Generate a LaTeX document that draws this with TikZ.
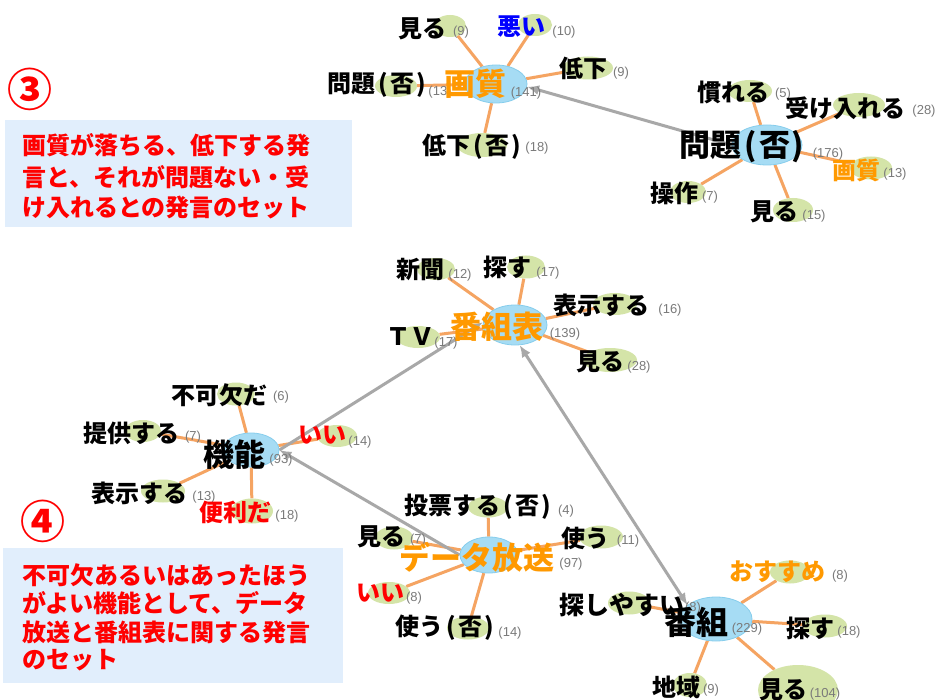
\documentclass[tikz,border=0pt]{standalone}
\usepackage{fontspec}
\setmainfont{Noto Sans CJK JP}
\newfontfamily\cntfont{Liberation Sans}
\usetikzlibrary{shapes.geometric,arrows.meta,backgrounds}
\definecolor{hubfill}{HTML}{A6DCF4}
\definecolor{hubline}{HTML}{86CDEC}
\definecolor{leaffill}{HTML}{D4E4A8}
\definecolor{edgeorange}{HTML}{F5A462}
\definecolor{arrowgray}{HTML}{A8A8A8}
\definecolor{boxfill}{HTML}{E1EEFC}
\definecolor{txtorange}{HTML}{FF9900}
\definecolor{txtred}{HTML}{FF0000}
\definecolor{txtblue}{HTML}{0000FF}
\definecolor{cntgray}{HTML}{7A7A7A}
\newcommand\hin[1]{\kern3pt(\kern2pt#1\kern2pt)}
\tikzset{
  hub/.style 2 args={ellipse, fill=hubfill, draw=hubline, line width=0.8pt, inner sep=0pt, minimum width=#1, minimum height=#2},
  leaf/.style 2 args={ellipse, fill=leaffill, draw=none, inner sep=0pt, minimum width=#1, minimum height=#2},
  lab/.style={inner sep=0pt, font=\fontsize{24}{28}\selectfont\bfseries, text=black},
  hublab/.style={inner sep=0pt, font=\fontsize{31}{34}\selectfont\bfseries, text=black},
  cnt/.style={inner sep=0pt, font=\cntfont\fontsize{13}{15}\selectfont, text=cntgray},
  oedge/.style={draw=edgeorange, line width=3pt},
  garrow/.style={draw=arrowgray, line width=3pt, -{Latex[length=12pt,width=10pt]}},
  gdarrow/.style={draw=arrowgray, line width=3pt, {Latex[length=12pt,width=10pt]}-{Latex[length=12pt,width=10pt]}},
  infobox/.style={fill=boxfill, draw=none, inner sep=0pt, anchor=north west},
  boxline/.style={inner sep=0pt, anchor=west, font=\fontsize{24}{28}\selectfont\bfseries, text=txtred},
  bignum/.style={inner sep=0pt, font=\fontsize{45}{48}\selectfont\bfseries, text=txtred},
}
\begin{document}
\begin{tikzpicture}[x=1pt,y=-1pt]
\useasboundingbox (0,0) rectangle (936,700);
\begin{pgfonlayer}{background}
\fill[white] (0,0) rectangle (936,700);
\end{pgfonlayer}

% ---------- info boxes ----------
\node[bignum] (n3) at (30,89) {③};
\node[infobox, minimum width=347, minimum height=107] (box1) at (5,120) {};
\node[boxline] (b1l1) at (22,145) {画質が落ちる、低下する発};
\node[boxline] (b1l2) at (22,177) {言と、それが問題ない・受};
\node[boxline] (b1l3) at (22,207) {け入れるとの発言のセット};

\node[bignum] (n4) at (43,521) {④};
\node[infobox, minimum width=340, minimum height=135] (box2) at (3,548) {};
\node[boxline] (b2l1) at (22,575) {不可欠あるいはあったほう};
\node[boxline] (b2l2) at (22,603) {がよい機能として、データ};
\node[boxline] (b2l3) at (22,632) {放送と番組表に関する発言};
\node[boxline] (b2l4) at (22,660) {のセット};

% ---------- hubs ----------
\node[hub={62}{38}] (gs) at (496,84) {};
\node[hub={70}{40}] (md) at (767,145) {};
\node[hub={64}{40}] (bh) at (515,325) {};
\node[hub={56}{34}] (kn) at (251,450) {};
\node[hub={58}{36}] (dh) at (489,555) {};
\node[hub={72}{44}] (bg) at (716,619) {};

% ---------- leaves ----------
\node[leaf={32}{22}] (g1) at (450,26) {};
\node[leaf={34}{22}] (g2) at (535,25) {};
\node[leaf={50}{23}] (g3) at (588,68) {};
\node[leaf={42}{22}] (g4) at (396,86) {};
\node[leaf={50}{24}] (g5) at (482,145) {};

\node[leaf={44}{22}] (m1) at (750,91) {};
\node[leaf={52}{24}] (m2) at (859,105) {};
\node[leaf={42}{23}] (m3) at (871,168) {};
\node[leaf={36}{22}] (m4) at (688,192) {};
\node[leaf={40}{24}] (m5) at (793,210) {};

\node[leaf={38}{22}] (b1) at (436,269) {};
\node[leaf={38}{23}] (b2) at (526,267) {};
\node[leaf={44}{22}] (b3) at (615,304) {};
\node[leaf={44}{22}] (b4) at (418,337) {};
\node[leaf={54}{24}] (b5) at (610,360) {};

\node[leaf={38}{23}] (k1) at (236,394) {};
\node[leaf={36}{22}] (k2) at (143,431) {};
\node[leaf={40}{22}] (k3) at (337,436) {};
\node[leaf={44}{23}] (k4) at (163,491) {};
\node[leaf={42}{25}] (k5) at (252,511) {};

\node[leaf={40}{21}] (d1) at (488,507) {};
\node[leaf={44}{23}] (d2) at (601,537) {};
\node[leaf={38}{23}] (d3) at (394,538) {};
\node[leaf={42}{22}] (d4) at (389,593) {};
\node[leaf={42}{23}] (d5) at (468,628) {};

\node[leaf={40}{23}] (q1) at (790,572) {};
\node[leaf={42}{23}] (q2) at (629,603) {};
\node[leaf={44}{23}] (q3) at (825,626) {};
\node[leaf={34}{24}] (q4) at (690,685) {};
\node[leaf={80}{50}] (q5) at (798,690) {};

% ---------- edges (behind) ----------
\begin{pgfonlayer}{background}
\foreach \a/\b in {gs/g1,gs/g2,gs/g3,gs/g4,gs/g5,
                   md/m1,md/m2,md/m3,md/m4,md/m5,
                   bh/b1,bh/b2,bh/b3,bh/b4,bh/b5,
                   kn/k1,kn/k2,kn/k3,kn/k4,kn/k5,
                   dh/d1,dh/d2,dh/d3,dh/d4,dh/d5,
                   bg/q1,bg/q2,bg/q3,bg/q4,bg/q5}
  \draw[oedge] (\a) -- (\b);
\draw[garrow] (md.west) -- (gs.-5);
\draw[garrow] (kn.east) -- (bh.175);
\draw[garrow] (dh.west) -- (kn.east);
\draw[gdarrow] (bh.-77) -- (bg.154);
\end{pgfonlayer}

% ---------- counts ----------
\node[cnt] (cgs) at (526,93) {(141)};
\node[cnt] (cmd) at (828,154) {(176)};
\node[cnt] (cbh) at (565,334) {(139)};
\node[cnt] (ckn) at (281,460) {(93)};
\node[cnt] (cdh) at (571,564) {(97)};
\node[cnt] (cbg) at (747,629) {(229)};

\node[cnt] (cg1) at (461,32) {(9)};
\node[cnt] (cg2) at (564,32) {(10)};
\node[cnt] (cg3) at (621,73) {(9)};
\node[cnt] (cg4) at (440,92) {(13)};
\node[cnt] (cg5) at (537,148) {(18)};

\node[cnt] (cm1) at (783,94) {(5)};
\node[cnt] (cm2) at (924,111) {(28)};
\node[cnt] (cm3) at (895,174) {(13)};
\node[cnt] (cm4) at (710,197) {(7)};
\node[cnt] (cm5) at (814,216) {(15)};

\node[cnt] (cb1) at (460,275) {(12)};
\node[cnt] (cb2) at (548,273) {(17)};
\node[cnt] (cb3) at (670,310) {(16)};
\node[cnt] (cb4) at (446,343) {(17)};
\node[cnt] (cb5) at (639,367) {(28)};

\node[cnt] (ck1) at (281,397) {(6)};
\node[cnt] (ck2) at (193,437) {(7)};
\node[cnt] (ck3) at (360,442) {(14)};
\node[cnt] (ck4) at (204,497) {(13)};
\node[cnt] (ck5) at (287,516) {(18)};

\node[cnt] (cd1) at (566,511) {(4)};
\node[cnt] (cd2) at (628,541) {(11)};
\node[cnt] (cd3) at (418,540) {(7)};
\node[cnt] (cd4) at (414,598) {(8)};
\node[cnt] (cd5) at (510,633) {(14)};

\node[cnt] (cq1) at (840,576) {(8)};
\node[cnt] (cq2) at (693,608) {(8)};
\node[cnt] (cq3) at (849,632) {(18)};
\node[cnt] (cq4) at (711,690) {(9)};
\node[cnt] (cq5) at (825,694) {(104)};

% ---------- labels ----------
\node[hublab, text=txtorange] (lgs) at (475,84) {画質};
\node[hublab] (lmd) at (742,147) {問題\hin{否}};
\node[hublab, text=txtorange] (lbh) at (497,327) {番組表};
\node[hublab] (lkn) at (234,455) {機能};
\node[hublab, text=txtorange] (ldh) at (477,557) {データ放送};
\node[hublab, font=\fontsize{32}{34}\selectfont\bfseries] (lbg) at (696,622) {番組};

\node[lab] (lg1) at (422,29) {見る};
\node[lab, text=txtblue] (lg2) at (521,27) {悪い};
\node[lab] (lg3) at (583,68) {低下};
\node[lab] (lg4) at (377,85) {問題\hin{否}};
\node[lab] (lg5) at (472,147) {低下\hin{否}};

\node[lab] (lm1) at (733,92) {慣れる};
\node[lab] (lm2) at (845,108) {受け入れる};
\node[lab, text=txtorange] (lm3) at (856,170) {画質};
\node[lab] (lm4) at (674,193) {操作};
\node[lab] (lm5) at (774,212) {見る};

\node[lab] (lb1) at (420,270) {新聞};
\node[lab] (lb2) at (507,267) {探す};
\node[lab] (lb3) at (601,305) {表示する};
\node[lab] (lb4) at (410,337) {ＴＶ};
\node[lab] (lb5) at (600,362) {見る};

\node[lab] (lk1) at (219,395) {不可欠だ};
\node[lab] (lk2) at (131,433) {提供する};
\node[lab, text=txtred] (lk3) at (322,435) {いい};
\node[lab] (lk4) at (139,493) {表示する};
\node[lab, text=txtred] (lk5) at (235,512) {便利だ};

\node[lab] (ld1) at (478,507) {投票する\hin{否}};
\node[lab] (ld2) at (585,538) {使う};
\node[lab] (ld3) at (381,537) {見る};
\node[lab, text=txtred] (ld4) at (380,593) {いい};
\node[lab] (ld5) at (445,628) {使う\hin{否}};

\node[lab, text=txtorange] (lq1) at (777,572) {おすすめ};
\node[lab, font=\fontsize{25}{28}\selectfont\bfseries] (lq2) at (622,605) {探しやすい};
\node[lab] (lq3) at (810,628) {探す};
\node[lab] (lq4) at (676,687) {地域};
\node[lab] (lq5) at (783,690) {見る};
\end{tikzpicture}
\end{document}
